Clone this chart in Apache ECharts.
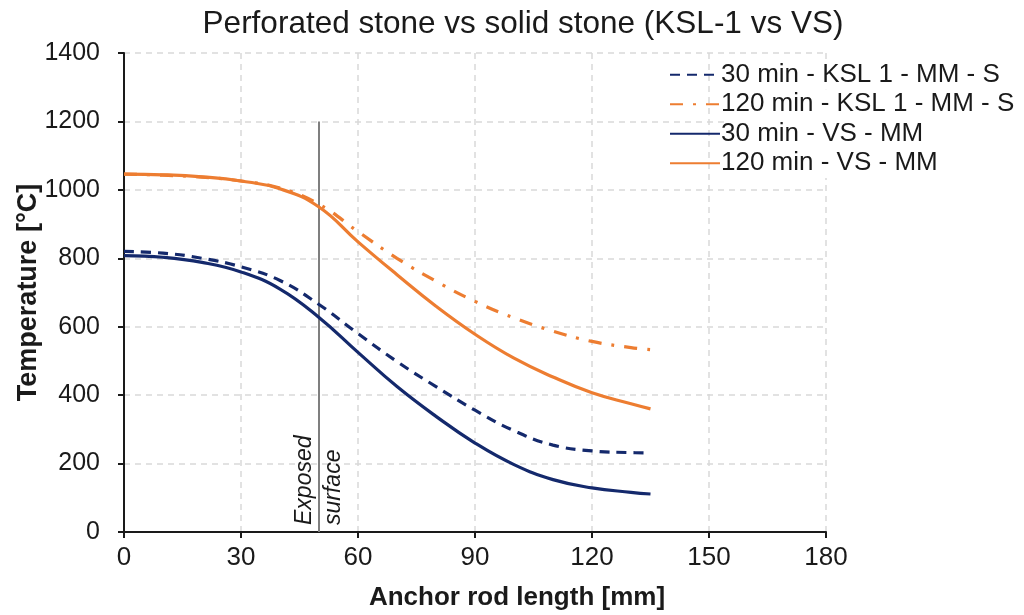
<!DOCTYPE html>
<html>
<head>
<meta charset="utf-8">
<script src="https://cdn.jsdelivr.net/npm/echarts@6/dist/echarts.min.js"></script>
<style>html,body{margin:0;padding:0;background:#fff}#c{width:1024px;height:615px}</style>
</head>
<body>
<div id="c"></div>
<script>
// Data
const xValues = [0, 10, 20, 30, 40, 50, 60, 70, 80, 90, 100, 110, 120, 130, 135];
const ksl30 = [820, 815, 800, 775, 735, 665, 580, 498, 425, 356, 296, 254, 237, 232, 231];
const ksl120 = [1046, 1043, 1037, 1026, 1005, 958, 878, 800, 733, 674, 626, 587, 557, 539, 533];
const vs30 = [808, 803, 788, 760, 710, 627, 525, 425, 338, 260, 197, 153, 129, 116, 111];
const vs120 = [1046, 1044, 1038, 1026, 1003, 950, 848, 752, 660, 578, 508, 453, 407, 375, 360];
const seriesNames = ['30 min - KSL 1 - MM - S', '120 min - KSL 1 - MM - S', '30 min - VS - MM', '120 min - VS - MM'];
const exposedX = 50;
const exposedLine = [[50, 0], [50, 1200]];
const xTicks = [0, 30, 60, 90, 120, 150, 180];
const yTicks = [0, 200, 400, 600, 800, 1000, 1200, 1400];

const pair = (ys) => xValues.map((x, i) => [x, ys[i]]);
const NAVY = '#14296c';
const ORANGE = '#ed7d31';
const FONT = '"Liberation Sans", Arial, sans-serif';

const chart = echarts.init(document.getElementById('c'), null, {renderer: 'canvas'});
const lineSeries = (name, ys, color, type) => ({
  name, type: 'line', data: pair(ys), smooth: 0.45, symbol: 'none', showSymbol: false,
  color, lineStyle: {color, width: 3.2, type}, z: 3
});
const option = {
  animation: false,
  backgroundColor: '#fff',
  title: [{
    text: 'Perforated stone vs solid stone (KSL-1 vs VS)',
    left: 518, top: 3, textAlign: 'center',
    textStyle: {fontFamily: FONT, fontSize: 31.5, fontWeight: 'normal', color: '#1a1a1a'}
  }, {
    text: 'Anchor rod length [mm]',
    left: 512, top: 580, textAlign: 'center',
    textStyle: {fontFamily: FONT, fontSize: 26, fontWeight: 'bold', color: '#1a1a1a'}
  }],
  legend: {
    orient: 'vertical', left: 664, top: 55,
    itemWidth: 50, itemHeight: 14, itemGap: 0,
    itemStyle: {opacity: 0},
    textStyle: {fontFamily: FONT, fontSize: 26, color: '#1a1a1a', lineHeight: 29.5, backgroundColor: '#fff', padding: [0, 0, 0, -4]},
    data: seriesNames
  },
  grid: {left: 124, right: 198, top: 53, bottom: 83, outerBoundsMode: 'none', containLabel: false},
  xAxis: {
    type: 'value', min: 0, max: 180, interval: 30,
    axisLine: {show: true, onZero: false, lineStyle: {color: '#1a1a1a', width: 2}},
    axisTick: {show: true, length: 6, lineStyle: {color: '#1a1a1a', width: 2}},
    axisLabel: {fontFamily: FONT, fontSize: 26, color: '#1a1a1a', margin: 13,
      formatter: (v) => xTicks.includes(v) ? String(v) : ''},
    splitLine: {show: true, lineStyle: {color: '#d9d9d9', type: [6, 5], width: 1.5}}
  },
  yAxis: {
    type: 'value', min: 0, max: 1400, interval: 200,
    name: 'Temperature [°C]', nameLocation: 'middle', nameGap: 82, nameMoveOverlap: false,
    nameTextStyle: {fontFamily: FONT, fontSize: 27, fontWeight: 'bold', color: '#1a1a1a'},
    axisLine: {show: true, lineStyle: {color: '#1a1a1a', width: 2}},
    axisTick: {show: true, length: 6, lineStyle: {color: '#1a1a1a', width: 2}},
    axisLabel: {fontFamily: FONT, fontSize: 25, color: '#1a1a1a', margin: 24,
      formatter: (v) => yTicks.includes(v) ? String(v) : ''},
    splitLine: {show: true, lineStyle: {color: '#d9d9d9', type: [6, 5], width: 1.5}}
  },
  series: [
    {name: 'exposed', type: 'line', data: exposedLine, showSymbol: false, symbol: 'none', silent: true,
      lineStyle: {color: '#7f7f7f', width: 2}, z: 1},
    lineSeries(seriesNames[0], ksl30, NAVY, [10, 7]),
    lineSeries(seriesNames[1], ksl120, ORANGE, [13, 10, 3, 10]),
    lineSeries(seriesNames[2], vs30, NAVY, 'solid'),
    lineSeries(seriesNames[3], vs120, ORANGE, 'solid')
  ]
};
chart.setOption(option);

const p = chart.convertToPixel({gridIndex: 0}, [exposedX, 0]);
chart.setOption({
  graphic: [
    {type: 'text', x: p[0] - 3, y: p[1] - 7, rotation: Math.PI / 2, z: 10,
      style: {text: 'Exposed', fontFamily: FONT, fontSize: 23, fontStyle: 'italic', fill: '#1a1a1a',
        align: 'left', verticalAlign: 'bottom'}},
    {type: 'text', x: p[0] + 3, y: p[1] - 7, rotation: Math.PI / 2, z: 10,
      style: {text: 'surface', fontFamily: FONT, fontSize: 23, fontStyle: 'italic', fill: '#1a1a1a',
        align: 'left', verticalAlign: 'top'}}
  ]
});
</script>
</body>
</html>
